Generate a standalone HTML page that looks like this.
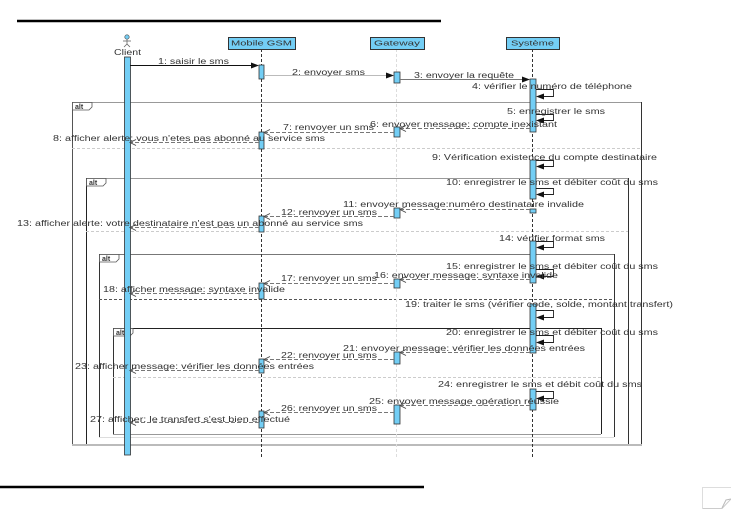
<!DOCTYPE html>
<html><head><meta charset="utf-8"><style>
html,body{margin:0;padding:0;background:#fff;}
svg{display:block;}
text{font-family:"Liberation Sans",sans-serif;font-size:8px;fill:#333;}
.h{font-size:7.5px;}
.alt{font-size:7px;font-weight:bold;}
</style></head><body>
<svg width="731" height="512" viewBox="0 0 731 512" xmlns="http://www.w3.org/2000/svg">
<line x1="17" y1="21" x2="441" y2="21" stroke="#000" stroke-width="2.5"/>
<line x1="0" y1="487" x2="424" y2="487" stroke="#000" stroke-width="2.5"/>
<path d="M702.5 508.5 L702.5 487.5 L731 487.5" fill="none" stroke="#ddd" stroke-width="1"/>
<path d="M702.5 508.5 L722 508.5 L731 499" fill="none" stroke="#ccc" stroke-width="1"/>
<path d="M722 508 L726 500 L731 499" fill="none" stroke="#bbb" stroke-width="1"/>

<g fill="none">
<line x1="72" y1="102.5" x2="641" y2="102.5" stroke="#999"/>
<line x1="72.5" y1="102" x2="72.5" y2="445" stroke="#555"/>
<line x1="641.5" y1="102" x2="641.5" y2="445" stroke="#333"/>
<line x1="72" y1="148.5" x2="641" y2="148.5" stroke="#ccc" stroke-dasharray="3,2"/>
<line x1="86" y1="178.5" x2="628" y2="178.5" stroke="#999"/>
<line x1="86.5" y1="178" x2="86.5" y2="445" stroke="#222"/>
<line x1="628.5" y1="178" x2="628.5" y2="445" stroke="#333"/>
<line x1="86" y1="231.5" x2="628" y2="231.5" stroke="#ccc" stroke-dasharray="3,2"/>
<line x1="99" y1="254.5" x2="614" y2="254.5" stroke="#777"/>
<line x1="99.5" y1="254" x2="99.5" y2="437" stroke="#333"/>
<line x1="614.5" y1="254" x2="614.5" y2="437" stroke="#333"/>
<line x1="99" y1="437.5" x2="614" y2="437.5" stroke="#ddd"/>
<line x1="99" y1="299.5" x2="614" y2="299.5" stroke="#555" stroke-dasharray="3,2"/>
<line x1="113" y1="328.5" x2="601" y2="328.5" stroke="#222"/>
<line x1="113.5" y1="328" x2="113.5" y2="434" stroke="#333"/>
<line x1="601.5" y1="328" x2="601.5" y2="434" stroke="#222"/>
<line x1="113" y1="434.5" x2="601" y2="434.5" stroke="#999"/>
<line x1="113" y1="377.5" x2="601" y2="377.5" stroke="#ccc" stroke-dasharray="3,2"/>
<line x1="72" y1="445" x2="642" y2="445" stroke="#bbb" stroke-width="2"/>
</g>
<g fill="#fff" stroke="#555" stroke-width="0.8">
<path d="M72.5 102.5 H92 V107 L89 110 H72.5 Z"/>
<path d="M86.5 178.5 H106 V183 L103 186 H86.5 Z"/>
<path d="M99.5 254.5 H119 V259 L116 262 H99.5 Z"/>
<path d="M113.5 328.5 H133 V333 L130 336 H113.5 Z"/>
</g>
<text class="alt" x="75" y="109">alt</text>
<text class="alt" x="89" y="185">alt</text>
<text class="alt" x="102" y="261">alt</text>
<text class="alt" x="116" y="335">alt</text>

<line x1="261.5" y1="49" x2="261.5" y2="458" stroke="#333" stroke-dasharray="3,2"/>
<line x1="396.5" y1="49" x2="396.5" y2="458" stroke="#ddd" stroke-dasharray="3,2"/>
<line x1="532.5" y1="49" x2="532.5" y2="458" stroke="#333" stroke-dasharray="3,2"/>

<g fill="#73cef5" stroke="#333" stroke-width="1">
<rect x="228.5" y="37.5" width="67" height="12"/>
<rect x="370.5" y="37.5" width="54" height="12"/>
<rect x="506.5" y="37.5" width="53" height="12"/>
</g>
<text class="h" x="231" y="45.5" textLength="61" lengthAdjust="spacingAndGlyphs">Mobile GSM</text>
<text class="h" x="374" y="45.5" textLength="46" lengthAdjust="spacingAndGlyphs">Gateway</text>
<text class="h" x="511" y="45.5" textLength="43" lengthAdjust="spacingAndGlyphs">Système</text>

<circle cx="127" cy="37" r="2.2" fill="#73cef5" stroke="#555" stroke-width="0.7"/>
<g stroke="#666" stroke-width="0.8">
<line x1="127" y1="39" x2="127" y2="44"/>
<line x1="123" y1="41" x2="131" y2="41"/>
<line x1="127" y1="44" x2="124" y2="47"/>
<line x1="127" y1="44" x2="130" y2="47"/>
</g>
<text x="114" y="55" textLength="27" lengthAdjust="spacingAndGlyphs">Client</text>

<g fill="#73cef5" stroke="#333" stroke-width="0.8">
<rect x="124.5" y="57" width="6" height="398"/>
<rect x="259" y="65" width="5" height="14"/>
<rect x="259" y="132" width="5" height="17"/>
<rect x="259" y="216" width="5" height="16"/>
<rect x="259" y="283" width="5" height="16"/>
<rect x="259" y="359" width="5" height="14"/>
<rect x="259" y="411" width="5" height="17"/>
<rect x="394" y="72" width="6" height="11"/>
<rect x="394" y="127" width="6" height="10"/>
<rect x="394" y="208" width="6" height="10"/>
<rect x="394" y="279" width="6" height="9"/>
<rect x="394" y="352" width="6" height="12"/>
<rect x="394" y="405" width="6" height="19"/>
<rect x="530" y="79" width="6" height="53"/>
<rect x="530" y="160" width="6" height="39"/>
<rect x="530" y="209" width="6" height="4"/>
<rect x="530" y="241" width="6" height="42"/>
<rect x="530" y="304" width="6" height="49"/>
<rect x="530" y="389" width="6" height="21"/>
</g>

<line x1="130" y1="65.5" x2="253" y2="65.5" stroke="#111"/>
<polygon points="259,65.5 251,62.5 251,68.5" fill="#111"/>
<line x1="264" y1="75.5" x2="388" y2="75.5" stroke="#bbb"/>
<polygon points="394,75.5 386,72.5 386,78.5" fill="#111"/>
<line x1="400" y1="79.5" x2="524" y2="79.5" stroke="#777"/>
<polygon points="530,79.5 522,76.5 522,82.5" fill="#111"/>

<g fill="none" stroke="#222" stroke-width="0.9">
<polyline points="536,89.5 553.5,89.5 553.5,96.5 540,96.5"/>
<polyline points="536,114.5 553.5,114.5 553.5,120.5 540,120.5"/>
<polyline points="536,160.5 553.5,160.5 553.5,166.5 540,166.5"/>
<polyline points="536,188.5 553.5,188.5 553.5,194.5 540,194.5"/>
<polyline points="536,241.5 553.5,241.5 553.5,247.5 540,247.5"/>
<polyline points="536,269.5 553.5,269.5 553.5,276.5 540,276.5"/>
<polyline points="536,310.5 553.5,310.5 553.5,317.5 540,317.5"/>
<polyline points="536,335.5 553.5,335.5 553.5,342.5 540,342.5"/>
<polyline points="536,391.5 553.5,391.5 553.5,398.5 540,398.5"/>
</g>
<g fill="#111">
<polygon points="536,96.5 544,93.5 544,99.5"/>
<polygon points="536,120.5 544,117.5 544,123.5"/>
<polygon points="536,166.5 544,163.5 544,169.5"/>
<polygon points="536,194.5 544,191.5 544,197.5"/>
<polygon points="536,247.5 544,244.5 544,250.5"/>
<polygon points="536,276.5 544,273.5 544,279.5"/>
<polygon points="536,317.5 544,314.5 544,320.5"/>
<polygon points="536,342.5 544,339.5 544,345.5"/>
<polygon points="536,398.5 544,395.5 544,401.5"/>
</g>

<g fill="none" stroke="#777" stroke-width="0.9" stroke-dasharray="4,2">
<line x1="530" y1="128.5" x2="400" y2="128.5"/>
<line x1="394" y1="132.5" x2="264" y2="132.5"/>
<line x1="259" y1="142.5" x2="130" y2="142.5"/>
<line x1="530" y1="209.5" x2="400" y2="209.5"/>
<line x1="394" y1="216.5" x2="264" y2="216.5"/>
<line x1="259" y1="227.5" x2="130" y2="227.5"/>
<line x1="530" y1="279.5" x2="400" y2="279.5"/>
<line x1="394" y1="283.5" x2="264" y2="283.5"/>
<line x1="259" y1="293.5" x2="130" y2="293.5"/>
<line x1="530" y1="352.5" x2="400" y2="352.5"/>
<line x1="394" y1="359.5" x2="264" y2="359.5"/>
<line x1="259" y1="370.5" x2="130" y2="370.5"/>
<line x1="530" y1="405.5" x2="400" y2="405.5"/>
<line x1="394" y1="412.5" x2="264" y2="412.5"/>
<line x1="259" y1="422.5" x2="130" y2="422.5"/>
</g>
<g fill="none" stroke="#444" stroke-width="0.9">
<polyline points="406,125.5 400,128.5 406,131.5"/>
<polyline points="270,129.5 264,132.5 270,135.5"/>
<polyline points="136,139.5 130,142.5 136,145.5"/>
<polyline points="406,206.5 400,209.5 406,212.5"/>
<polyline points="270,213.5 264,216.5 270,219.5"/>
<polyline points="136,224.5 130,227.5 136,230.5"/>
<polyline points="406,276.5 400,279.5 406,282.5"/>
<polyline points="270,280.5 264,283.5 270,286.5"/>
<polyline points="136,290.5 130,293.5 136,296.5"/>
<polyline points="406,349.5 400,352.5 406,355.5"/>
<polyline points="270,356.5 264,359.5 270,362.5"/>
<polyline points="136,367.5 130,370.5 136,373.5"/>
<polyline points="406,402.5 400,405.5 406,408.5"/>
<polyline points="270,409.5 264,412.5 270,415.5"/>
<polyline points="136,419.5 130,422.5 136,425.5"/>
</g>

<text x="158" y="64" textLength="71" lengthAdjust="spacingAndGlyphs">1: saisir le sms</text>
<text x="292" y="75" textLength="73" lengthAdjust="spacingAndGlyphs">2: envoyer sms</text>
<text x="414" y="78" textLength="100" lengthAdjust="spacingAndGlyphs">3: envoyer la requête</text>
<text x="472" y="89" textLength="160" lengthAdjust="spacingAndGlyphs">4: vérifier le numéro de téléphone</text>
<text x="507" y="114" textLength="98" lengthAdjust="spacingAndGlyphs">5: enregistrer le sms</text>
<text x="370" y="127" textLength="187" lengthAdjust="spacingAndGlyphs">6: envoyer message: compte inexistant</text>
<text x="283" y="130" textLength="91" lengthAdjust="spacingAndGlyphs">7: renvoyer un sms</text>
<text x="53" y="141" textLength="272" lengthAdjust="spacingAndGlyphs">8: afficher alerte: vous n'etes pas abonné au service sms</text>
<text x="432" y="160" textLength="225" lengthAdjust="spacingAndGlyphs">9: Vérification existence du compte destinataire</text>
<text x="446" y="185" textLength="212" lengthAdjust="spacingAndGlyphs">10: enregistrer le sms et débiter coût du sms</text>
<text x="343" y="207" textLength="241" lengthAdjust="spacingAndGlyphs">11: envoyer message:numéro destinataire invalide</text>
<text x="281" y="215" textLength="96" lengthAdjust="spacingAndGlyphs">12: renvoyer un sms</text>
<text x="17" y="226" textLength="346" lengthAdjust="spacingAndGlyphs">13: afficher alerte: votre destinataire n'est pas un abonné au service sms</text>
<text x="499" y="241" textLength="106" lengthAdjust="spacingAndGlyphs">14: vérifier format sms</text>
<text x="446" y="269" textLength="212" lengthAdjust="spacingAndGlyphs">15: enregistrer le sms et débiter coût du sms</text>
<text x="374" y="278" textLength="184" lengthAdjust="spacingAndGlyphs">16: envoyer message: syntaxe invalide</text>
<text x="281" y="281" textLength="96" lengthAdjust="spacingAndGlyphs">17: renvoyer un sms</text>
<text x="103" y="292" textLength="182" lengthAdjust="spacingAndGlyphs">18: afficher message: syntaxe invalide</text>
<text x="405" y="307" textLength="268" lengthAdjust="spacingAndGlyphs">19: traiter le sms (vérifier code, solde, montant transfert)</text>
<text x="446" y="335" textLength="212" lengthAdjust="spacingAndGlyphs">20: enregistrer le sms et débiter coût du sms</text>
<text x="343" y="351" textLength="242" lengthAdjust="spacingAndGlyphs">21: envoyer message: vérifier les données entrées</text>
<text x="281" y="358" textLength="96" lengthAdjust="spacingAndGlyphs">22: renvoyer un sms</text>
<text x="75" y="369" textLength="239" lengthAdjust="spacingAndGlyphs">23: afficher message: vérifier les données entrées</text>
<text x="438" y="387" textLength="204" lengthAdjust="spacingAndGlyphs">24: enregistrer le sms et débit coût du sms</text>
<text x="369" y="404" textLength="190" lengthAdjust="spacingAndGlyphs">25: envoyer message opération réussie</text>
<text x="281" y="411" textLength="96" lengthAdjust="spacingAndGlyphs">26: renvoyer un sms</text>
<text x="90" y="422" textLength="200" lengthAdjust="spacingAndGlyphs">27: afficher: le transfert s'est bien effectué</text>
</svg>
</body></html>
